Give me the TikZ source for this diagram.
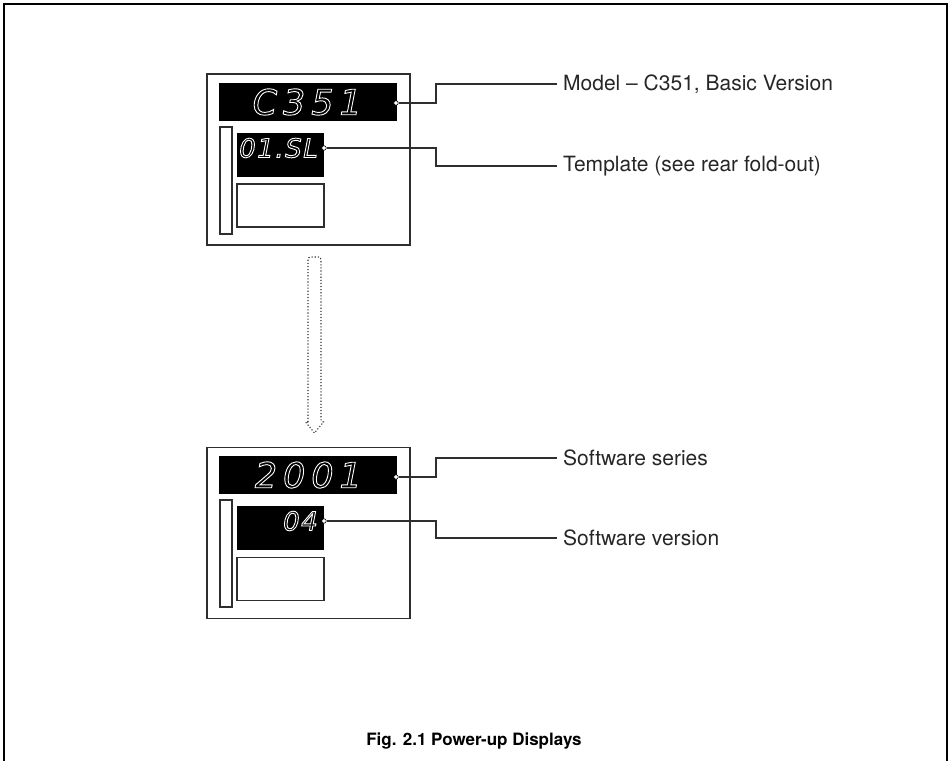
\documentclass[tikz,border=0pt]{standalone}
\usepackage{fontspec}
\setmainfont{TeX Gyre Heros}
\newfontfamily\segfont{DejaVu Sans}
\usetikzlibrary{calc}
\definecolor{ink}{HTML}{2E2E2E}
\newcommand\outlinetext[1]{\special{pdf:literal direct 1 Tr 0.9 w}#1\special{pdf:literal direct 0 Tr}}
\tikzset{
  unitbox/.style={draw=ink, line width=1.4pt, fill=white, minimum width=203, minimum height=171, inner sep=0},
  bigdisp/.style={fill=black, draw=none, minimum width=178, minimum height=38, inner sep=0},
  smalldisp/.style={fill=black, draw=none, minimum width=87, minimum height=44, inner sep=0},
  blankbox/.style={draw=ink, line width=1.2pt, fill=white, minimum width=87, minimum height=43, inner sep=0},
  barbox/.style={draw=ink, line width=1.2pt, fill=white, minimum width=12, minimum height=107, inner sep=0},
  bigseg/.style={text=white, inner sep=0, anchor=east, font=\segfont\itshape\fontsize{35}{35}\selectfont\addfontfeature{LetterSpace=17}},
  smallseg/.style={text=white, inner sep=0, anchor=east, font=\segfont\itshape\fontsize{26}{26}\selectfont\addfontfeature{LetterSpace=6}},
  leader/.style={draw=ink, line width=1.2pt},
  pin/.style={circle, fill=white, draw=black, line width=0.6pt, minimum size=4.5, inner sep=0},
  lab/.style={anchor=west, inner sep=0, font=\fontsize{21}{21}\selectfont, text=black!85},
  frameline/.style={draw=black, line width=2pt},
}
\begin{document}
\begin{tikzpicture}[x=1pt, y=-1pt]
\useasboundingbox (0,0) rectangle (951,761);
% page frame (open at the bottom)
\draw[frameline] (4,761) -- (4,4) -- (947,4) -- (947,761);

% ---------- upper unit ----------
\node[unitbox] (u1) at (308.5,159.5) {};
\node[bigdisp] (d1) at (308,102) {};
\node[barbox] (b1) at (226,180.5) {};
\node[smalldisp] (s1) at (280.5,155) {};
\node[blankbox] (w1) at (280.5,205.5) {};
\node[bigseg] (t1) at (362,102) {\outlinetext{C351}};
\node[smallseg] (t2) at (318,148) {\outlinetext{01.SL}};
\node[pin] (p1) at (396,103) {};
\node[pin] (p2) at (324,148) {};
\node[lab] (l1) at (563,84) {Model – C351, Basic Version};
\node[lab] (l2) at (563,166) {Template (see rear fold-out)};
\coordinate (k1) at (436,0);
\draw[leader] (p1) -- (p1 -| k1) |- ([xshift=-6pt]l1.west);
\draw[leader] (p2) -- (p2 -| k1) |- ([xshift=-6pt]l2.west);

% ---------- dotted arrow ----------
\draw[draw=ink, line width=1.1pt, dotted, rounded corners=2.5pt]
  (308,422) -- (308,257) -- (321,257) -- (321,422) [sharp corners] -- (323.5,422) -- (314.5,433) -- (305.5,422) -- cycle;

% ---------- lower unit ----------
\node[unitbox] (u2) at (308.5,533) {};
\node[bigdisp] (d2) at (308,475) {};
\node[barbox] (b2) at (226,553.5) {};
\node[smalldisp] (s2) at (280.5,528) {};
\node[blankbox] (w2) at (280.5,579) {};
\node[bigseg] (t3) at (362,475) {\outlinetext{2001}};
\node[smallseg] (t4) at (318,521) {\outlinetext{04}};
\node[pin] (p3) at (396,477) {};
\node[pin] (p4) at (324,521) {};
\node[lab] (l3) at (563,458) {Software series};
\node[lab] (l4) at (563,538) {Software version};
\draw[leader] (p3) -- (p3 -| k1) |- ([xshift=-6pt]l3.west);
\draw[leader] (p4) -- (p4 -| k1) |- ([xshift=-6pt]l4.west);

% ---------- caption ----------
\node[font=\bfseries\fontsize{17}{17}\selectfont, inner sep=0] (cap) at (474,741) {Fig. 2.1 Power-up Displays};
\end{tikzpicture}
\end{document}
